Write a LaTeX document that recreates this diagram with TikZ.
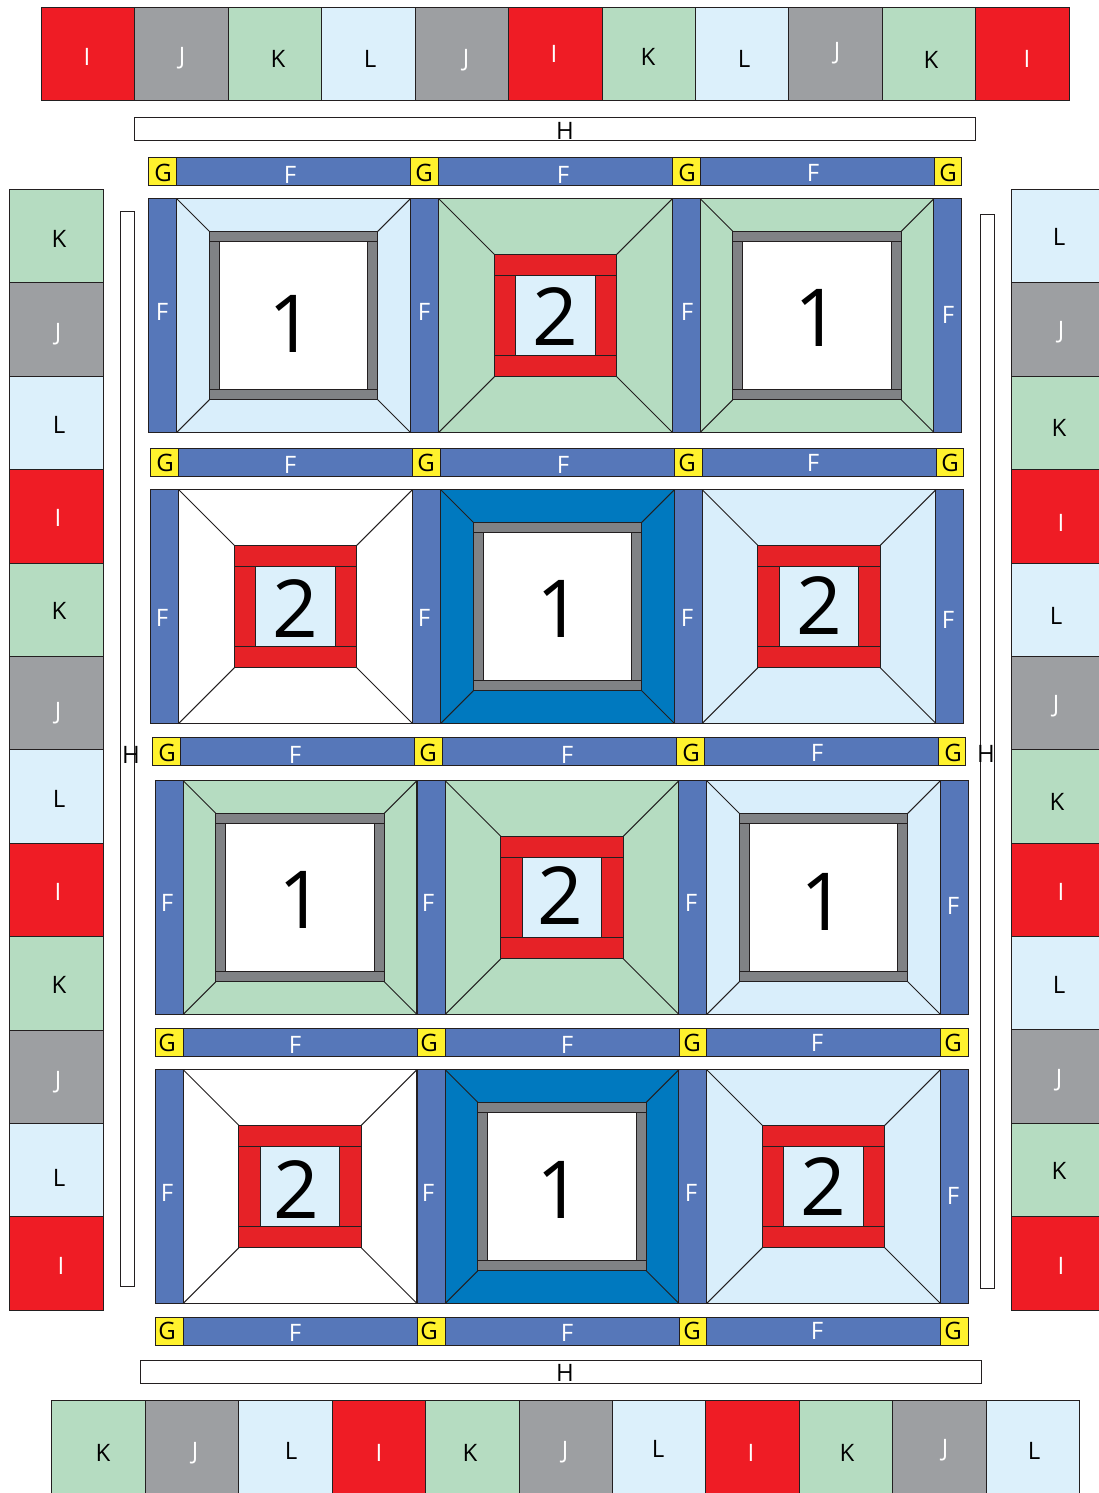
\documentclass[tikz,border=0pt]{standalone}
\usepackage{fontspec}
\setmainfont{Open Sans}
\definecolor{cF}{HTML}{5677B9}
\definecolor{cG}{HTML}{FFF22D}
\definecolor{cI}{HTML}{EF1C25}
\definecolor{cJ}{HTML}{9D9FA2}
\definecolor{cK}{HTML}{B5DCC1}
\definecolor{cL}{HTML}{DCF0FB}
\definecolor{cP}{HTML}{D9EEFB}
\definecolor{cD}{HTML}{0079BF}
\definecolor{cR}{HTML}{E62227}
\definecolor{cM}{HTML}{808285}
\definecolor{cS}{HTML}{231F20}
\tikzset{
  cellbox/.style={draw=cS,line width=1pt,line join=miter},
  lbl/.style={inner sep=0pt,font=\fontsize{24}{24}\selectfont,text height=17pt,text depth=0pt},
  lblw/.style={lbl,text=white},
  lblb/.style={lbl,text=black},
  num/.style={inner sep=0pt,font=\fontsize{80}{80}\selectfont,text height=57pt,text depth=0pt,text=black}
}
% one row of horizontal G/F sashing
\newcommand{\sashrow}[2]{%
  \begin{scope}[shift={(#1,#2)}]
    \foreach \a in {0,262,523.5,785} \path[cellbox,fill=cG] (\a,0) rectangle ++(28,28);
    \foreach \a in {28,290,551.5} \path[cellbox,fill=cF] (\a,0) rectangle ++(234,28);
  \end{scope}}
% vertical F sashing of one block row
\newcommand{\sashcol}[2]{%
  \begin{scope}[shift={(#1,#2)}]
    \foreach \a in {0,262,523.5,785} \path[cellbox,fill=cF] (\a,0) rectangle ++(28,233.5);
  \end{scope}}
\newcommand{\diagonals}[1]{%
  \draw[cellbox] (0,0) -- (#1,#1) (233.5,0) -- ({233.5-#1},#1) (0,233.5) -- (#1,{233.5-#1}) (233.5,233.5) -- ({233.5-#1},{233.5-#1});}
% block type 1: grey frame, white centre
\newcommand{\blockone}[3]{%
  \begin{scope}[shift={(#1,#2)}]
    \path[cellbox,fill=#3] (0,0) rectangle (233.5,233.5);
    \diagonals{32.5}
    \path[cellbox,fill=cM] (32.5,32.5) rectangle (201,42.5);
    \path[cellbox,fill=cM] (32.5,191) rectangle (201,201);
    \path[cellbox,fill=cM] (32.5,42.5) rectangle (42.5,191);
    \path[cellbox,fill=cM] (191,42.5) rectangle (201,191);
    \path[cellbox,fill=white] (42.5,42.5) rectangle (191,191);
  \end{scope}}
% block type 2: red frame, light blue centre
\newcommand{\blocktwo}[3]{%
  \begin{scope}[shift={(#1,#2)}]
    \path[cellbox,fill=#3] (0,0) rectangle (233.5,233.5);
    \diagonals{55.5}
    \path[cellbox,fill=cR] (55.5,55.5) rectangle (178,77);
    \path[cellbox,fill=cR] (55.5,156.5) rectangle (178,178);
    \path[cellbox,fill=cR] (55.5,77) rectangle (77,156.5);
    \path[cellbox,fill=cR] (156.5,77) rectangle (178,156.5);
    \path[cellbox,fill=cL] (77,77) rectangle (156.5,156.5);
  \end{scope}}
\begin{document}
\begin{tikzpicture}[x=1pt,y=-1pt]
\useasboundingbox (0,0) rectangle (1099,1493);
\clip (0,0) rectangle (1099,1493);
\begin{scope}[shift={(-0.2,-0.2)}]
% outer pieced border: top
\foreach \a/\c in {41.5/cI,135/cJ,228.5/cK,322/cL,415.5/cJ,509/cI,602.5/cK,695.5/cL,789/cJ,882.5/cK,976/cI}
  \path[cellbox,fill=\c] (\a,7.5) rectangle ++(93.5,93.5);
% left
\foreach \b/\c in {190/cK,283/cJ,376.5/cL,470/cI,563.5/cK,657/cJ,750/cL,843.5/cI,937/cK,1030.5/cJ,1124/cL,1217/cI}
  \path[cellbox,fill=\c] (10,\b) rectangle ++(93.5,93.5);
% right
\foreach \b/\c in {189.5/cL,283/cJ,376.5/cK,470/cI,563.5/cL,656.5/cJ,750/cK,843.5/cI,937/cL,1030/cJ,1124/cK,1217/cI}
  \path[cellbox,fill=\c] (1011.5,\b) rectangle ++(93.5,93.5);
% bottom
\foreach \a/\c in {52/cK,145.5/cJ,239/cL,332.5/cI,426/cK,519.5/cJ,612.5/cL,706/cI,799.5/cK,893/cJ,986.5/cL}
  \path[cellbox,fill=\c] (\a,1400.5) rectangle ++(93.5,100);
% H bars
\path[cellbox,fill=white] (135,118) rectangle (976,141);
\path[cellbox,fill=white] (141,1361) rectangle (982,1384);
\path[cellbox,fill=white] (120.5,212) rectangle (134.5,1287);
\path[cellbox,fill=white] (981,215) rectangle (995,1289);
% sashing
\sashrow{149}{158}
\sashcol{149}{199}
\sashrow{151}{449}
\sashcol{151}{490}
\sashrow{153}{738}
\sashcol{155.5}{781}
\sashrow{155.5}{1029}
\sashcol{155.5}{1070}
\sashrow{155.5}{1318}
% blocks
\blockone{177}{199}{cP}
\blocktwo{439}{199}{cK}
\blockone{700.5}{199}{cK}
\blocktwo{179}{490}{white}
\blockone{441}{490}{cD}
\blocktwo{702.5}{490}{cP}
\blockone{183.5}{781}{cK}
\blocktwo{445.5}{781}{cK}
\blockone{707}{781}{cP}
\blocktwo{183.5}{1070}{white}
\blockone{445.5}{1070}{cD}
\blocktwo{707}{1070}{cP}
\end{scope}
% numbers
\foreach \a/\b/\t [count=\i] in {291.5/324/1,555.5/317/2,817/318/1,295/609/2,559/609/1,819.5/606/2,301/900/1,560.5/896/2,823/902/1,296.5/1190/2,559/1190/1,823.5/1187/2}
  \node[num] (n\i) at (\a,\b) {\t};
% white letters F
\foreach \a/\b [count=\i] in {290/175,563/175,813/173,290/465,563/465,813/463,295/755,567/755,817/753,295/1045,567/1045,817/1043,295/1333,567/1333,817/1331,
  162/312,424/312,687/312,948/315,162/618,424/618,687/618,948/620,167/903,428/903,691/903,953/906,167/1193,428/1193,691/1193,953/1196}
  \node[lblw] (f\i) at (\a,\b) {F};
% G
\foreach \a/\b [count=\i] in {163/173,424/173,687/173,948/173,165/463,426/463,687/463,950/463,167/753,428/753,691/753,953/753,167/1043,429/1043,692/1043,953/1043,167/1331,429/1331,692/1331,953/1331}
  \node[lblb] (g\i) at (\a,\b) {G};
% H
\foreach \a/\b [count=\i] in {565/131,565/1373,131/755,986/754}
  \node[lblb] (h\i) at (\a,\b) {H};
% border letters
\foreach \a/\b/\t [count=\i] in {87/57/I,182/56/J,466/58/J,554/54/I,837/51/J,1027/59/I,
  58/332/J,58/518/I,58/711/J,58/892/I,58/1080/J,61/1266/I,
  1061/330/J,1061/523/I,1056/704/J,1061/892/I,1059/1078/J,1061/1266/I,
  195/1451/J,379/1453/I,565/1450/J,751/1453/I,945/1448/J}
  \node[lblw] (w\i) at (\a,\b) {\t};
\foreach \a/\b/\t [count=\i] in {278/59/K,370/59/L,648/57/K,744/59/L,931/60/K,
  59/239/K,59/425/L,59/611/K,59/799/L,59/985/K,59/1178/L,
  1059/237/L,1059/428/K,1056/616/L,1057/802/K,1059/985/L,1059/1171/K,
  103/1453/K,291/1451/L,470/1453/K,658/1449/L,847/1453/K,1034/1451/L}
  \node[lblb] (b\i) at (\a,\b) {\t};
\end{tikzpicture}
\end{document}
